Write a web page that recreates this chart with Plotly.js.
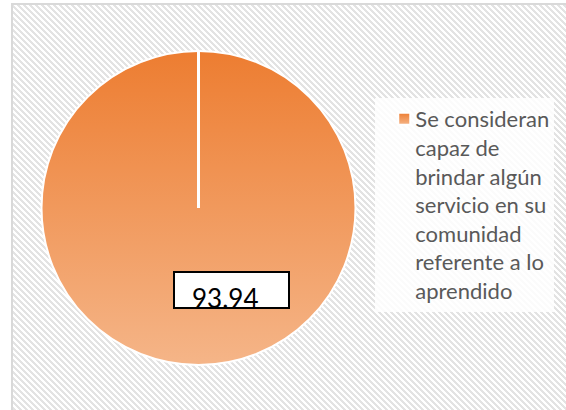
<!DOCTYPE html>
<html>
<head>
<meta charset="utf-8">
<script src="https://cdn.plot.ly/plotly-3.0.1.min.js"></script>
<style>
  html, body { margin: 0; padding: 0; background: #ffffff; width: 566px; height: 410px; overflow: hidden; }
  #bg {
    position: absolute; left: 11px; top: 3px; width: 620px; height: 440px;
    border-left: 2px solid #D9D9D9; border-top: 2px solid #D9D9D9;
    background-color: #ffffff;
    background-image: repeating-linear-gradient(45deg, #E3E3E3 0px, #E3E3E3 2.1px, #ffffff 2.1px, #ffffff 4.24px);
  }
  #chart { position: absolute; left: 0; top: 0; width: 566px; height: 410px; }
</style>
</head>
<body>
<div id="bg"></div>
<div id="chart"></div>
<script>
// ---- data ----
const labels = ["Se consideran<br>capaz de<br>brindar algún<br>servicio en su<br>comunidad<br>referente a lo<br>aprendido"];
const values = [93.94];
const dataLabels = values.map(v => v.toFixed(2));

// ---- styling ----
const W = 566, H = 410;
const cx = 198.5, cy = 208, r = 157;
const dom = {
  x: [(cx - r) / W, (cx + r) / W],
  y: [(H - (cy + r)) / H, (H - (cy - r)) / H]
};

const trace = {
  type: 'pie',
  labels: labels,
  values: values,
  domain: dom,
  sort: false,
  direction: 'clockwise',
  rotation: 0,
  textinfo: 'none',
  hoverinfo: 'skip',
  marker: { colors: ['#F0954F'], line: { color: '#ffffff', width: 2 } },
  showlegend: true
};

const layout = {
  width: W, height: H,
  margin: { l: 0, r: 0, t: 0, b: 0 },
  paper_bgcolor: 'rgba(0,0,0,0)',
  plot_bgcolor: 'rgba(0,0,0,0)',
  showlegend: true,
  legend: {
    x: 0.663, xanchor: 'left',
    y: 0.50, yanchor: 'middle',
    valign: 'top',
    bgcolor: 'rgba(255,255,255,0.85)',
    borderwidth: 0,
    font: { family: 'Lato, Carlito, sans-serif', size: 22, color: '#595959' },
    itemclick: false, itemdoubleclick: false
  },
  shapes: [{
    type: 'line', xref: 'paper', yref: 'paper',
    x0: cx / W, x1: cx / W,
    y0: (H - cy) / H, y1: (H - (cy - r)) / H,
    line: { color: '#ffffff', width: 3 }
  }],
  annotations: [{
    xref: 'paper', yref: 'paper',
    x: 231.5 / W, y: (H - 290) / H,
    xanchor: 'center', yanchor: 'middle',
    text: ' ',
    showarrow: false,
    font: { family: 'Lato, Carlito, sans-serif', size: 10, color: '#000000' },
    bgcolor: '#ffffff',
    bordercolor: '#000000',
    borderwidth: 2,
    borderpad: 0,
    width: 113, height: 34
  }, {
    xref: 'paper', yref: 'paper',
    x: 225 / W, y: (H - 315) / H,
    xanchor: 'center', yanchor: 'bottom',
    text: dataLabels[0],
    showarrow: false,
    font: { family: 'Lato, Carlito, sans-serif', size: 26, color: '#000000' },
    borderpad: 0
  }]
};

Plotly.newPlot('chart', [trace], layout, { displayModeBar: false, staticPlot: true }).then(function (gd) {
  const svg = gd.querySelector('svg.main-svg');
  const ns = 'http://www.w3.org/2000/svg';
  let defs = svg.querySelector('defs');
  if (!defs) { defs = document.createElementNS(ns, 'defs'); svg.insertBefore(defs, svg.firstChild); }
  const grad = document.createElementNS(ns, 'linearGradient');
  grad.setAttribute('id', 'pieGrad');
  grad.setAttribute('x1', '0'); grad.setAttribute('y1', '0');
  grad.setAttribute('x2', '0'); grad.setAttribute('y2', '1');
  [['0', '#ED7D31'], ['1', '#F5B588']].forEach(function (s) {
    const st = document.createElementNS(ns, 'stop');
    st.setAttribute('offset', s[0]);
    st.setAttribute('stop-color', s[1]);
    grad.appendChild(st);
  });
  defs.appendChild(grad);
  gd.querySelectorAll('.slice path.surface, .legendpoints path').forEach(function (p) {
    p.style.fill = 'url(#pieGrad)';
  });
  gd.querySelectorAll('.legendpoints').forEach(function (g) {
    const t = g.getAttribute('transform') || '';
    g.setAttribute('transform', t + ' translate(9,0)');
  });
});
</script>
</body>
</html>
